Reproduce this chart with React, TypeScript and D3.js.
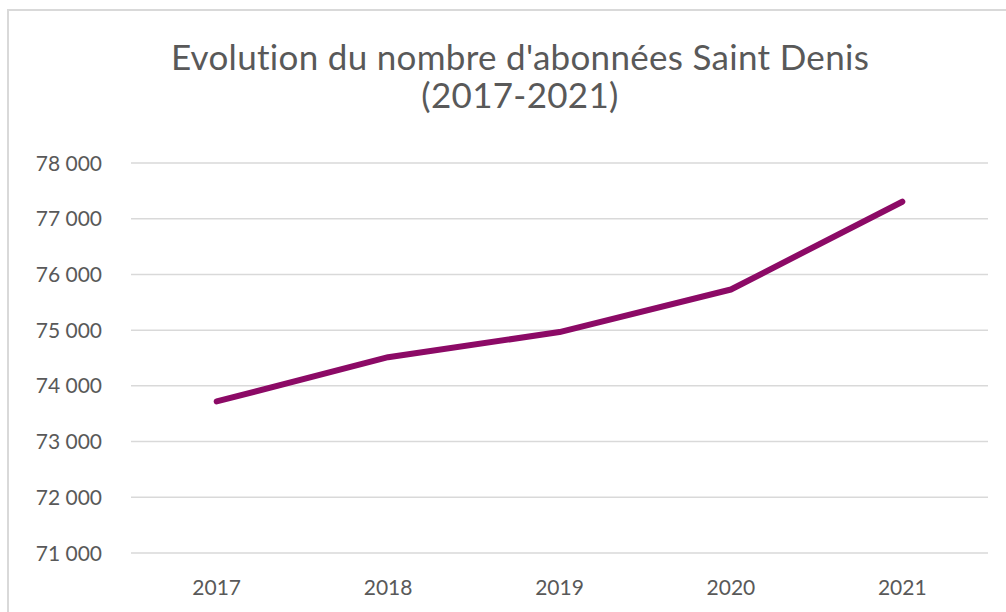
import { useRef, useEffect } from 'react'
import * as d3 from 'd3'

const years = ['2017', '2018', '2019', '2020', '2021']
const abonnees = [73720, 74515, 74965, 75730, 77305]
const yTicks = [71000, 72000, 73000, 74000, 75000, 76000, 77000, 78000]
const titleLines = ["Evolution du nombre d'abonnées Saint Denis", '(2017-2021)']

const WIDTH = 1006
const HEIGHT = 612

const App = () => {
  const svgRef = useRef<SVGSVGElement>(null)

  useEffect(() => {
    if (!svgRef.current) return
    const svg = d3.select(svgRef.current)
    svg.selectAll('*').remove()

    const font = 'Lato, "Open Sans", sans-serif'
    const textColor = '#595959'
    const plot = { left: 131, right: 988, top: 163, bottom: 553 }

    // chart frame, right and bottom edges fall outside the window
    svg.append('rect')
      .attr('x', 8)
      .attr('y', 10)
      .attr('width', 1040)
      .attr('height', 700)
      .attr('fill', '#fff')
      .attr('stroke', '#d9d9d9')
      .attr('stroke-width', 2)

    const x = d3.scaleBand<string>()
      .domain(years)
      .range([plot.left, plot.right])
    const y = d3.scaleLinear()
      .domain([71000, 78000])
      .range([plot.bottom, plot.top])

    const fr = d3.formatLocale({ decimal: ',', thousands: '\u00a0', grouping: [3], currency: ['', ' €'] })
    const fmt = fr.format(',d')

    // gridlines
    svg.append('g')
      .selectAll('line')
      .data(yTicks)
      .join('line')
      .attr('x1', plot.left)
      .attr('x2', plot.right)
      .attr('y1', d => y(d))
      .attr('y2', d => y(d))
      .attr('stroke', '#d9d9d9')
      .attr('stroke-width', 1.5)

    // y labels
    svg.append('g')
      .selectAll('text')
      .data(yTicks)
      .join('text')
      .attr('x', 102)
      .attr('y', d => y(d))
      .attr('dy', '0.36em')
      .attr('text-anchor', 'end')
      .attr('fill', textColor)
      .style('font-family', font)
      .style('font-size', '21px')
      .text(d => fmt(d))

    // x labels
    svg.append('g')
      .selectAll('text')
      .data(years)
      .join('text')
      .attr('x', d => (x(d) ?? 0) + x.bandwidth() / 2)
      .attr('y', 595)
      .attr('text-anchor', 'middle')
      .attr('fill', textColor)
      .style('font-family', font)
      .style('font-size', '21px')
      .text(d => d)

    // line
    const line = d3.line<number>()
      .x((_, i) => (x(years[i]) ?? 0) + x.bandwidth() / 2)
      .y(d => y(d))

    svg.append('path')
      .datum(abonnees)
      .attr('fill', 'none')
      .attr('stroke', '#8c0a66')
      .attr('stroke-width', 6)
      .attr('stroke-linecap', 'round')
      .attr('stroke-linejoin', 'round')
      .attr('d', line)

    // title
    svg.append('g')
      .selectAll('text')
      .data(titleLines)
      .join('text')
      .attr('x', 520)
      .attr('y', (_, i) => 70 + i * 38)
      .attr('text-anchor', 'middle')
      .attr('fill', textColor)
      .style('font-family', font)
      .style('font-size', '35px')
      .style('letter-spacing', '0.3px')
      .text(d => d)
  }, [])

  return (
    <svg
      ref={svgRef}
      width={WIDTH}
      height={HEIGHT}
      style={{ position: 'fixed', left: 0, top: 0, background: '#fff' }}
    />
  )
}

export default App
